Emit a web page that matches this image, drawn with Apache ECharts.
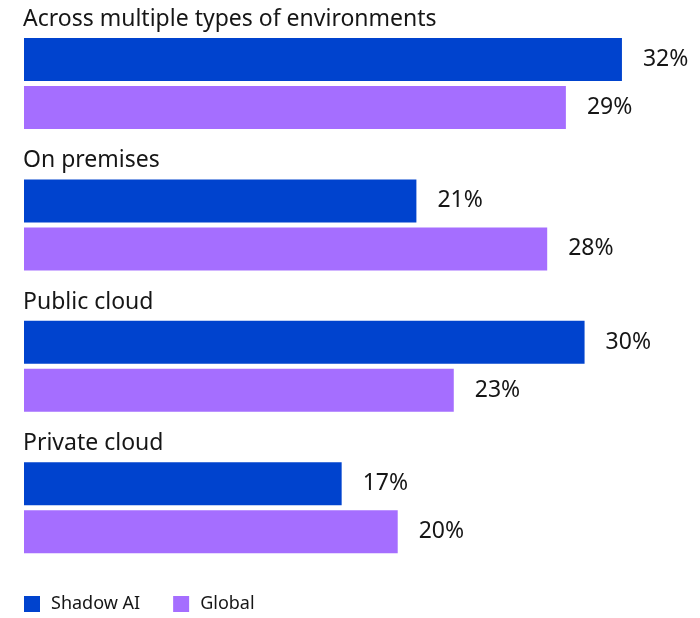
<!DOCTYPE html>
<html>
<head>
<meta charset="utf-8">
<script src="https://cdn.jsdelivr.net/npm/echarts@6/dist/echarts.min.js"></script>
<style>
  html, body { margin: 0; padding: 0; background: #ffffff; }
  #chart { width: 700px; height: 618px; }
</style>
</head>
<body>
<div id="chart"></div>
<script>
// Where AI workloads are deployed, by environment
const categories = ['Across multiple types of environments', 'On premises', 'Public cloud', 'Private cloud'];
const seriesNames = ['Shadow AI', 'Global'];
const shadowAI = [32, 21, 30, 17];
const globalVals = [29, 28, 23, 20];
const colors = ['#0043ce', '#a56eff'];

const FONT = '"Noto Sans", sans-serif';
const TEXT = '#161616';

const groupTop = 38;      // top of the first bar block
const groupPitch = 141.4; // distance between blocks
const blockH = 91;        // two bars + gap

const grids = [], xAxes = [], yAxes = [], series = [], titles = [];
categories.forEach((cat, i) => {
  const top = groupTop + i * groupPitch;
  grids.push({ left: 24, right: 22, top: top, height: blockH, containLabel: false });
  xAxes.push({ type: 'value', gridIndex: i, min: 0, max: 35, show: false });
  yAxes.push({ type: 'category', gridIndex: i, data: [cat], inverse: true, show: false });
  titles.push({
    text: cat, left: 18, top: top - 35,
    textStyle: { fontFamily: FONT, fontSize: 23, fontWeight: 'normal', color: TEXT }
  });
  [shadowAI, globalVals].forEach((vals, s) => {
    series.push({
      name: seriesNames[s], type: 'bar', xAxisIndex: i, yAxisIndex: i,
      data: [vals[i]], barWidth: 43, barGap: '11.6%',
      itemStyle: { color: colors[s] },
      label: {
        show: true, position: 'right', distance: 21,
        formatter: p => p.value + '%',
        fontFamily: FONT, fontSize: 23, color: TEXT
      },
      silent: true
    });
  });
});

const chart = echarts.init(document.getElementById('chart'), null, { renderer: 'canvas' });
chart.setOption({
  backgroundColor: '#ffffff',
  animation: false,
  title: titles,
  grid: grids,
  xAxis: xAxes,
  yAxis: yAxes,
  legend: {
    data: seriesNames, left: 19, top: 590, icon: 'rect',
    itemWidth: 16, itemHeight: 16, itemGap: 33,
    textStyle: { fontFamily: FONT, fontSize: 18, color: TEXT, padding: [0, 0, 0, 6] },
    selectedMode: false
  },
  color: colors,
  series: series
});
</script>
</body>
</html>
